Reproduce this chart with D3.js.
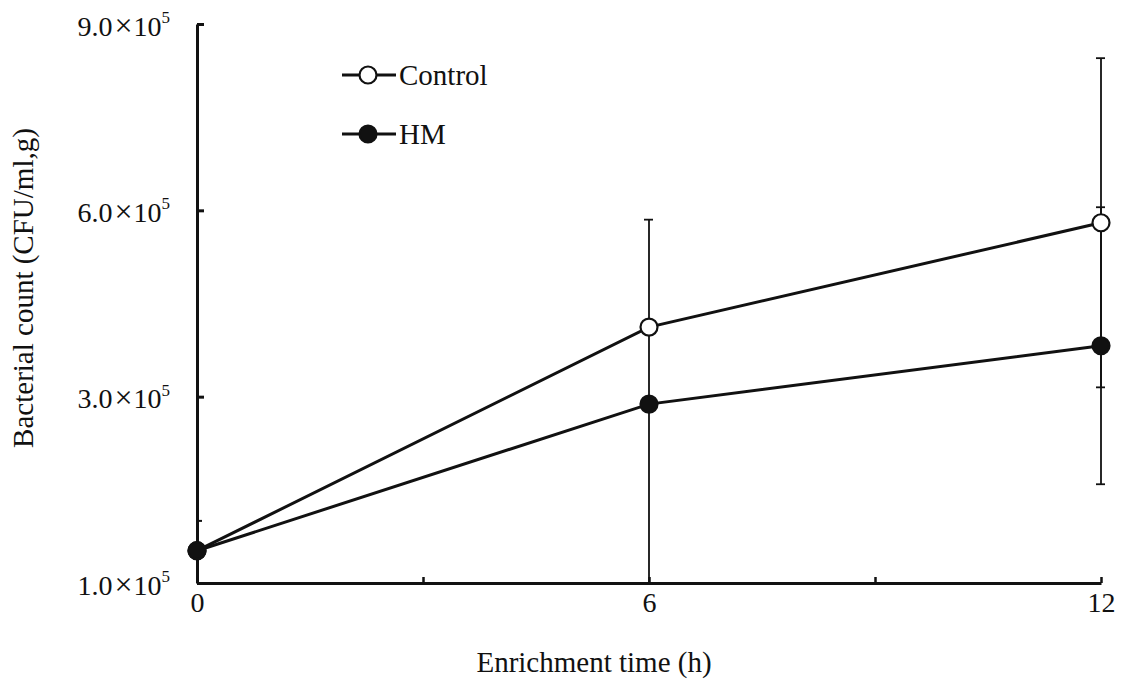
<!DOCTYPE html>
<html>
<head>
<meta charset="utf-8">
<script src="https://cdn.jsdelivr.net/npm/d3@7"></script>
<style>
  html, body { margin: 0; padding: 0; background: #fff; }
  svg text { font-family: "Liberation Serif", "Times New Roman", serif; fill: #111; }
</style>
</head>
<body>
<svg id="chart" width="1124" height="679"></svg>
<script>
// Enrichment times (h)
const times = [0, 6, 12];
// Mean bacterial counts (CFU/ml,g)
const controlMean = [52000, 412000, 580000];
const hmMean      = [52000, 288000, 382000];
// Standard deviations
const controlErr  = [0, 8000, 265000];
const hmErr       = [0, 297000, 223000];

// Axis ticks
const xTickValues = [0, 3, 6, 9, 12];
const xTickLabels = ["0", "", "6", "", "12"];
const yTickValues = [0, 300000, 600000, 900000];
const yTickMantissa = ["1.0", "3.0", "6.0", "9.0"];
const yTickExponent = ["5", "5", "5", "5"];
const yMinorTicks = [100000];

const seriesNames = ["Control", "HM"];

const svg = d3.select("#chart");
const plotLeft = 197, plotRight = 1101, plotTop = 24, plotBottom = 583;

const x = d3.scaleLinear().domain([0, 12]).range([plotLeft, plotRight]);
const y = d3.scaleLinear().domain([0, 900000]).range([plotBottom, plotTop]);

const ink = "#111";
const titleSize = 29;
const tickSize = 28;

// ---- error bars (clipped to the plot area) ----
svg.append("clipPath").attr("id", "plot")
  .append("rect").attr("x", plotLeft - 20).attr("y", 0)
  .attr("width", plotRight - plotLeft + 40).attr("height", plotBottom);

const errG = svg.append("g").attr("clip-path", "url(#plot)");
function errorBars(means, errs) {
  times.forEach((t, i) => {
    if (!errs[i]) return;
    const cx = x(t);
    const hi = y(means[i] + errs[i]);
    const lo = y(means[i] - errs[i]);
    errG.append("line").attr("x1", cx).attr("x2", cx).attr("y1", hi).attr("y2", lo)
      .attr("stroke", ink).attr("stroke-width", 1.8);
    [hi, lo].forEach(yy => {
      errG.append("line").attr("x1", cx - 5).attr("x2", cx + 4).attr("y1", yy).attr("y2", yy)
        .attr("stroke", ink).attr("stroke-width", 1.8);
    });
  });
}
errorBars(controlMean, controlErr);
errorBars(hmMean, hmErr);

// ---- axes ----
const yAxis = d3.axisLeft(y).tickValues(yTickValues).tickSizeInner(-7).tickSizeOuter(0).tickPadding(27);
const yG = svg.append("g").attr("transform", `translate(${plotLeft},0)`).call(yAxis);
yG.select(".domain").attr("stroke", ink).attr("stroke-width", 3);
yG.selectAll(".tick line").attr("stroke", ink).attr("stroke-width", 3);
yG.selectAll(".tick text").each(function(d, i) {
  const t = d3.select(this).text(null).attr("font-size", tickSize).attr("dy", "0.4em").attr("fill", ink);
  t.append("tspan").text(yTickMantissa[i]);
  t.append("tspan").text("×").attr("dx", 2).attr("font-size", 32);
  t.append("tspan").text("10").attr("dx", 1);
  t.append("tspan").text(yTickExponent[i]).attr("font-size", 17).attr("dy", "-0.75em");
});
yG.selectAll(".minor").data(yMinorTicks).enter().append("line")
  .attr("x1", 0).attr("x2", 5).attr("y1", d => y(d)).attr("y2", d => y(d))
  .attr("stroke", ink).attr("stroke-width", 2);

const xAxis = d3.axisBottom(x).tickValues(xTickValues).tickSizeInner(-6).tickSizeOuter(0)
  .tickPadding(9).tickFormat((d, i) => xTickLabels[i]);
const xG = svg.append("g").attr("transform", `translate(0,${plotBottom})`).call(xAxis);
xG.select(".domain").attr("stroke", ink).attr("stroke-width", 3);
xG.selectAll(".tick line").attr("stroke", ink).attr("stroke-width", 2.5);
xG.selectAll(".tick text").attr("font-size", tickSize).attr("fill", ink);

// axis titles
svg.append("text").attr("x", 594).attr("y", 672)
  .attr("text-anchor", "middle").attr("font-size", titleSize).text("Enrichment time (h)");
svg.append("text").attr("transform", "translate(33,288) rotate(-90)")
  .attr("text-anchor", "middle").attr("font-size", titleSize).text("Bacterial count (CFU/ml,g)");

// ---- series lines and markers ----
const line = d3.line().x((d, i) => x(times[i])).y(d => y(d));
[controlMean, hmMean].forEach(means => {
  svg.append("path").datum(means).attr("d", line)
    .attr("fill", "none").attr("stroke", ink).attr("stroke-width", 3);
});
[[controlMean, "#fff"], [hmMean, ink]].forEach(([means, fill]) => {
  svg.selectAll(null).data(means).enter().append("circle")
    .attr("cx", (d, i) => x(times[i])).attr("cy", d => y(d)).attr("r", 8.5)
    .attr("fill", fill).attr("stroke", ink).attr("stroke-width", 2.2);
});

// ---- legend ----
const legend = svg.append("g");
[["#fff", 75], [ink, 134]].forEach(([fill, ly], i) => {
  legend.append("line").attr("x1", 342).attr("x2", 396).attr("y1", ly).attr("y2", ly)
    .attr("stroke", ink).attr("stroke-width", 3);
  legend.append("circle").attr("cx", 368).attr("cy", ly).attr("r", 8.5)
    .attr("fill", fill).attr("stroke", ink).attr("stroke-width", 2.2);
  legend.append("text").attr("x", 399).attr("y", ly).attr("dy", "0.35em")
    .attr("font-size", titleSize).text(seriesNames[i]);
});
</script>
</body>
</html>
